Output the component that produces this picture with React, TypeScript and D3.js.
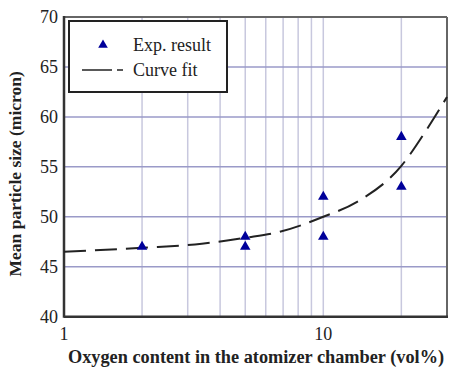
import React from "react";
import * as d3 from "d3";

const expX = [2, 5, 5, 10, 10, 20, 20];
const expY = [47, 48, 47, 52, 48, 58, 53];
const fitX = [1, 2, 3.4, 5, 6.8, 10, 13.5, 20, 25, 30];
const fitY = [46.5, 46.9, 47.3, 47.9, 48.5, 50.0, 51.5, 55.1, 58.7, 62.0];
const yTicks = [40, 45, 50, 55, 60, 65, 70];
const xGrid = [2, 3, 4, 5, 6, 7, 8, 9, 10, 20];
const xLabels = [1, 10];

const W = 464, H = 376;
const L = 64, R = 447, T = 17, B = 316.7;

export default function App() {
  const x = d3.scaleLog().domain([1, 30]).range([L, R]);
  const y = d3.scaleLinear().domain([40, 70]).range([B, T]);
  const line = d3
    .line<number>()
    .x((_, i) => x(fitX[i]))
    .y((d) => y(d))
    .curve(d3.curveMonotoneX);
  const tri = d3.symbol().type(d3.symbolTriangle).size(48)() as string;
  const triLegend = d3.symbol().type(d3.symbolTriangle).size(40)() as string;
  const font = '"Liberation Serif", "DejaVu Serif", serif';
  return (
    <svg width={W} height={H} style={{ position: "absolute", left: 0, top: 0, fontFamily: font }}>
      <rect width={W} height={H} fill="#fff" />
      {xGrid.map((v) => (
        <line key={"gx" + v} x1={x(v)} x2={x(v)} y1={T} y2={B} stroke="#c8c8de" strokeWidth={1.5} />
      ))}
      {yTicks.slice(1, -1).map((v) => (
        <line key={"gy" + v} x1={L} x2={R} y1={y(v)} y2={y(v)} stroke="#9a9ac8" strokeWidth={1.5} />
      ))}
      {/* frame */}
      <line x1={L} x2={R} y1={T} y2={T} stroke="#666" strokeWidth={2} />
      <line x1={R} x2={R} y1={T} y2={B} stroke="#666" strokeWidth={2} />
      <line x1={L} x2={L} y1={T - 1} y2={B + 1} stroke="#333" strokeWidth={2.5} />
      <line x1={L} x2={R + 1} y1={B} y2={B} stroke="#333" strokeWidth={2.5} />
      {/* curve */}
      <path d={line(fitY) || ""} fill="none" stroke="#222" strokeWidth={2} strokeDasharray="22,9" />
      {/* points */}
      {expX.map((v, i) => (
        <path key={"p" + i} d={tri} transform={`translate(${x(v)},${y(expY[i])})`} fill="#00009a" />
      ))}
      {/* y tick labels */}
      {yTicks.map((v) => (
        <text key={"yl" + v} x={58} y={y(v)} dy="0.35em" textAnchor="end" fontSize={18} fill="#222">
          {v}
        </text>
      ))}
      {xLabels.map((v) => (
        <text key={"xl" + v} x={x(v)} y={340} textAnchor="middle" fontSize={18} fill="#222">
          {v}
        </text>
      ))}
      <text x={256} y={363} textAnchor="middle" fontSize={18.3} fontWeight="bold" fill="#222">
        Oxygen content in the atomizer chamber (vol%)
      </text>
      <text
        transform={`translate(21,${(T + B) / 2 + 7}) rotate(-90)`}
        textAnchor="middle"
        fontSize={17.5}
        fontWeight="bold"
        fill="#222"
      >
        Mean particle size (micron)
      </text>
      {/* legend */}
      <rect x={69} y={21} width={158} height={71} fill="#fff" stroke="#222" strokeWidth={2} />
      <path d={triLegend} transform="translate(103,45)" fill="#00009a" />
      <text x={133} y={51} fontSize={18} fill="#222">Exp. result</text>
      <line x1={82} x2={112} y1={70} y2={70} stroke="#222" strokeWidth={1.5} />
      <line x1={117} x2={123} y1={70} y2={70} stroke="#222" strokeWidth={1.5} />
      <text x={133} y={76} fontSize={18} fill="#222">Curve fit</text>
    </svg>
  );
}
